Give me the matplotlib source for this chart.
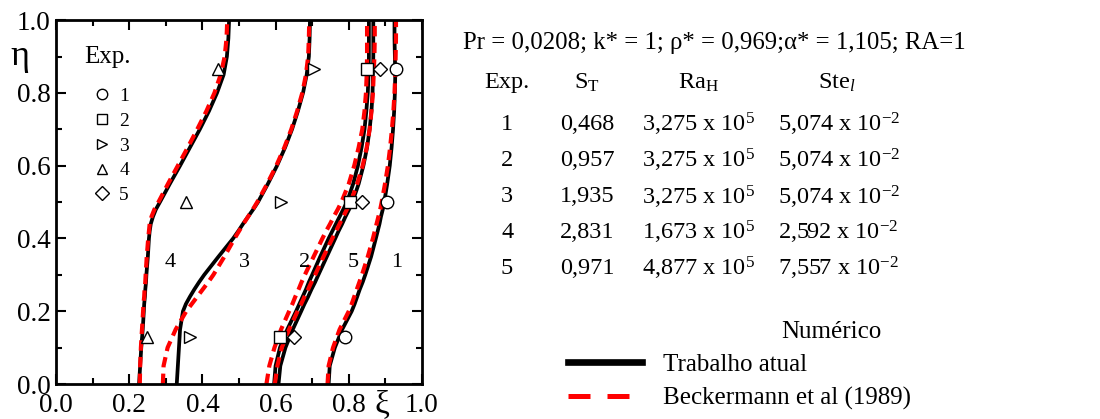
import numpy as np
import matplotlib
matplotlib.use('Agg')
import matplotlib.pyplot as plt
from matplotlib.lines import Line2D

plt.rcParams['font.family'] = ['Liberation Serif', 'DejaVu Serif']
plt.rcParams['mathtext.fontset'] = 'custom'
plt.rcParams['mathtext.rm'] = 'Liberation Serif'
plt.rcParams['mathtext.it'] = 'Liberation Serif:italic'

# niveis de eta para as curvas da interface
eta = [0.0, 0.05, 0.1, 0.15, 0.2, 0.22, 0.24, 0.26, 0.28, 0.3, 0.35, 0.4, 0.42, 0.44,
       0.46, 0.48, 0.5, 0.55, 0.6, 0.65, 0.7, 0.75, 0.8, 0.85, 0.9, 0.95, 1.0]

# trabalho atual (preto)
xi_atual_1 = [0.745, 0.748, 0.762, 0.782, 0.808, 0.816, 0.823, 0.830, 0.838, 0.845, 0.861, 0.874, 0.879, 0.884,
              0.888, 0.893, 0.897, 0.905, 0.912, 0.917, 0.921, 0.924, 0.926, 0.927, 0.926, 0.925, 0.925]
xi_atual_2 = [0.596, 0.600, 0.612, 0.632, 0.656, 0.665, 0.674, 0.683, 0.691, 0.700, 0.722, 0.745, 0.755, 0.765,
              0.775, 0.785, 0.795, 0.812, 0.825, 0.835, 0.843, 0.848, 0.852, 0.854, 0.855, 0.855, 0.855]
xi_atual_3 = [0.330, 0.333, 0.336, 0.339, 0.347, 0.355, 0.366, 0.378, 0.391, 0.405, 0.444, 0.484, 0.498, 0.511,
              0.525, 0.539, 0.552, 0.579, 0.604, 0.626, 0.645, 0.661, 0.675, 0.685, 0.691, 0.693, 0.694]
xi_atual_4 = [0.227, 0.230, 0.233, 0.237, 0.240, 0.241, 0.243, 0.244, 0.246, 0.247, 0.251, 0.254, 0.256, 0.259,
              0.265, 0.273, 0.284, 0.311, 0.339, 0.366, 0.393, 0.418, 0.440, 0.458, 0.467, 0.471, 0.473]
xi_atual_5 = [0.608, 0.613, 0.627, 0.647, 0.670, 0.679, 0.689, 0.698, 0.708, 0.717, 0.740, 0.763, 0.772, 0.782,
              0.791, 0.801, 0.810, 0.827, 0.840, 0.850, 0.857, 0.862, 0.865, 0.866, 0.867, 0.867, 0.867]

# Beckermann et al (1989) (vermelho)
xi_beck_1 = [0.742, 0.745, 0.757, 0.775, 0.800, 0.808, 0.815, 0.822, 0.829, 0.836, 0.852, 0.866, 0.871, 0.876,
             0.881, 0.886, 0.890, 0.899, 0.907, 0.913, 0.918, 0.922, 0.925, 0.927, 0.928, 0.929, 0.929]
xi_beck_2 = [0.575, 0.583, 0.597, 0.615, 0.637, 0.646, 0.654, 0.663, 0.671, 0.680, 0.704, 0.728, 0.738, 0.749,
             0.759, 0.770, 0.780, 0.800, 0.815, 0.827, 0.837, 0.843, 0.847, 0.849, 0.850, 0.850, 0.850]
xi_beck_3 = [0.292, 0.294, 0.305, 0.327, 0.356, 0.371, 0.386, 0.401, 0.416, 0.430, 0.460, 0.488, 0.500, 0.512,
             0.525, 0.538, 0.550, 0.577, 0.602, 0.624, 0.643, 0.659, 0.673, 0.683, 0.689, 0.691, 0.692]
xi_beck_4 = [0.229, 0.230, 0.232, 0.235, 0.238, 0.239, 0.241, 0.242, 0.244, 0.245, 0.248, 0.252, 0.254, 0.256,
             0.261, 0.269, 0.280, 0.306, 0.333, 0.360, 0.386, 0.411, 0.433, 0.450, 0.461, 0.466, 0.468]
xi_beck_5 = [0.598, 0.605, 0.617, 0.637, 0.660, 0.670, 0.679, 0.689, 0.698, 0.708, 0.731, 0.755, 0.765, 0.775,
             0.785, 0.795, 0.805, 0.823, 0.838, 0.849, 0.857, 0.862, 0.866, 0.868, 0.870, 0.871, 0.871]

# experimentos
eta_exp = [0.13, 0.50, 0.865]
xi_exp_1 = [0.790, 0.905, 0.930]
xi_exp_2 = [0.612, 0.803, 0.850]
xi_exp_3 = [0.366, 0.615, 0.705]
xi_exp_4 = [0.248, 0.355, 0.442]
xi_exp_5 = [0.650, 0.835, 0.885]

exp_labels = ['1', '2', '3', '4', '5']
exp_markers = ['o', 's', '>', '^', 'D']
exp_msize = [9, 8, 8.5, 8.5, 7.5]
curve_label_x = [0.931, 0.68, 0.516, 0.311, 0.812]
curve_label_y = 0.335

# tabela
table_cols = ['Exp.', r'S$_\mathrm{T}$', r'Ra$_\mathrm{H}$', r'Ste$_{l}$']
col_st = ['0,468', '0,957', '1,935', '2,831', '0,971']
col_ra = ['3,275', '3,275', '3,275', '1,673', '4,877']
col_ste = ['5,074', '5,074', '5,074', '2,592', '7,557']

atual = [xi_atual_1, xi_atual_2, xi_atual_3, xi_atual_4, xi_atual_5]
beck = [xi_beck_1, xi_beck_2, xi_beck_3, xi_beck_4, xi_beck_5]
exps = [xi_exp_1, xi_exp_2, xi_exp_3, xi_exp_4, xi_exp_5]

fig = plt.figure(figsize=(11, 4.19), dpi=100)
ax = fig.add_axes([0.0509, 0.0835, 0.3327, 0.8685])

for xa, xb in zip(atual, beck):
    ax.plot(xa, eta, color='black', lw=2.7, solid_capstyle='butt')
    ax.plot(xb, eta, color='red', lw=3.0, dashes=(2.5, 1.5))

handles = []
for xe, m, ms, lab in zip(exps, exp_markers, exp_msize, exp_labels):
    h, = ax.plot(xe, eta_exp, linestyle='none', marker=m, ms=ms, mfc='white',
                 mec='black', mew=1.0, label=lab)
    handles.append(h)

for lab, x in zip(exp_labels, curve_label_x):
    ax.text(x, curve_label_y, lab, fontsize=16, ha='center', va='center')

# legenda dos experimentos
ax.text(0.142, 0.898, 'Exp.', fontsize=18, ha='center', va='center', transform=ax.transAxes)
leg = ax.legend(handles=handles, frameon=False, loc='upper left',
                bbox_to_anchor=(0.093, 0.815), fontsize=14,
                handletextpad=0.3, labelspacing=0.37, handlelength=1.2,
                borderaxespad=0, borderpad=0)
for h in leg.legend_handles:
    h.set_markersize(7.5)

ax.set_xlim(0, 1)
ax.set_ylim(0, 1)
ax.set_xticks(np.arange(0, 1.01, 0.2))
ax.set_yticks(np.arange(0, 1.01, 0.2))
ax.set_xticks(np.arange(0.1, 1.0, 0.2), minor=True)
ax.set_yticks(np.arange(0.1, 1.0, 0.2), minor=True)
ax.set_xticklabels(['0.0', '0.2', '0.4', '0.6', '0.8', '1.0'])
ax.set_yticklabels(['0.0', '0.2', '0.4', '0.6', '0.8', '1.0'])
ax.tick_params(which='both', direction='in', top=True, right=True, labelsize=19.5, width=1.5)
ax.tick_params(which='major', length=7, pad=4)
ax.tick_params(axis='x', which='major', pad=6.5)
ax.tick_params(which='minor', length=4)
for s in ax.spines.values():
    s.set_linewidth(2)

ax.text(-0.1, 0.9, 'η', fontsize=26, ha='center', va='center', transform=ax.transAxes)
ax.text(0.89, -0.058, 'ξ', fontsize=24, ha='center', va='center', transform=ax.transAxes)

# tabela de parametros
fs = 17.5
fig.text(0.421, 0.897, 'Pr = 0,0208; k* = 1; ρ* = 0,969;α* = 1,105; RA=1', fontsize=17.8, va='center')
col_x = [0.461, 0.534, 0.635, 0.761]
header_y = 0.802
for cx, t in zip(col_x, table_cols):
    fig.text(cx, header_y, t, fontsize=fs, ha='center', va='center')
row_y = [0.702, 0.616, 0.530, 0.446, 0.360]
for i in range(5):
    y = row_y[i]
    fig.text(col_x[0], y, exp_labels[i], fontsize=fs, ha='center', va='center')
    fig.text(col_x[1], y, col_st[i], fontsize=fs, ha='center', va='center')
    fig.text(0.5835, y, col_ra[i] + r' x 10$^{5}$', fontsize=fs, ha='left', va='center')
    fig.text(0.7075, y, col_ste[i] + r' x 10$^{-2}$', fontsize=fs, ha='left', va='center')

# legenda numerico
fig.text(0.7555, 0.208, 'Numérico', fontsize=18, ha='center', va='center')
num_handles = [Line2D([], [], color='black', lw=4.8),
               Line2D([], [], color='red', lw=3.6, dashes=(4.4, 3.4))]
fig.legend(handles=num_handles, labels=['Trabalho atual', 'Beckermann et al (1989)'],
           loc='upper left', bbox_to_anchor=(0.507, 0.18), frameon=False, fontsize=18,
           handlelength=2.96, handletextpad=0.84, labelspacing=0.45, borderaxespad=0)

fig.savefig('out.png', dpi=100)
